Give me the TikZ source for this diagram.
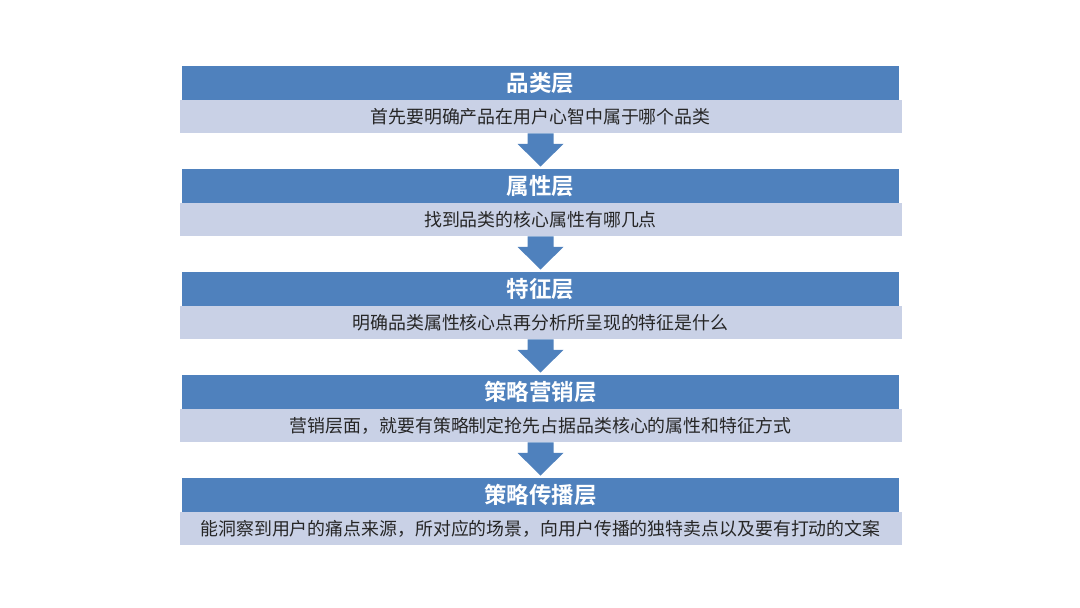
\documentclass[tikz,border=0pt]{standalone}
\usepackage{fontspec}
\setmainfont{Noto Sans CJK SC}
\newfontfamily\cjkbold{Noto Sans CJK SC Bold}
\definecolor{hdrblue}{HTML}{4F81BD}
\definecolor{desclight}{HTML}{C9D1E6}
\definecolor{desctext}{HTML}{262626}
\tikzset{
  hdr/.style={fill=hdrblue, draw=none, minimum width=717pt, minimum height=33.5pt, inner sep=0pt, anchor=north, text=white, font=\cjkbold\fontsize{22.5}{22.5}\selectfont},
  desc/.style={fill=desclight, draw=none, minimum width=722pt, minimum height=33.5pt, inner sep=0pt, anchor=north, text=desctext, font=\fontsize{17.9}{17.9}\selectfont},
  downarrow/.style={fill=hdrblue, draw=none}
}
\begin{document}
\begin{tikzpicture}[x=1pt,y=-1pt]
\useasboundingbox (0,0) rectangle (1080,608);
\node[hdr] (h1) at (540.5,66) {品类层};
\node[desc] (d1) at (540.5,99.5) {首先要明确产品在用户心智中属于哪个品类};
\node[hdr] (h2) at (540.5,169) {属性层};
\node[desc] (d2) at (540.5,202.5) {找到品类的核心属性有哪几点};
\node[hdr] (h3) at (540.5,272) {特征层};
\node[desc] (d3) at (540.5,305.5) {明确品类属性核心点再分析所呈现的特征是什么};
\node[hdr] (h4) at (540.5,375) {策略营销层};
\node[desc] (d4) at (540.5,408.5) {营销层面，就要有策略制定抢先占据品类核心的属性和特征方式};
\node[hdr] (h5) at (540.5,478) {策略传播层};
\node[desc] (d5) at (540.5,511.5) {能洞察到用户的痛点来源，所对应的场景，向用户传播的独特卖点以及要有打动的文案};
\foreach \a/\b in {d1/h2,d2/h3,d3/h4,d4/h5}{
  \fill[downarrow] ([xshift=-13pt]\a.south) -- ([xshift=13pt]\a.south) -- ([xshift=13pt,yshift=-10.5pt]\a.south) -- ([xshift=23pt,yshift=-10.5pt]\a.south) -- ([yshift=2.5pt]\b.north) -- ([xshift=-23pt,yshift=-10.5pt]\a.south) -- ([xshift=-13pt,yshift=-10.5pt]\a.south) -- cycle;
}
\end{tikzpicture}
\end{document}
